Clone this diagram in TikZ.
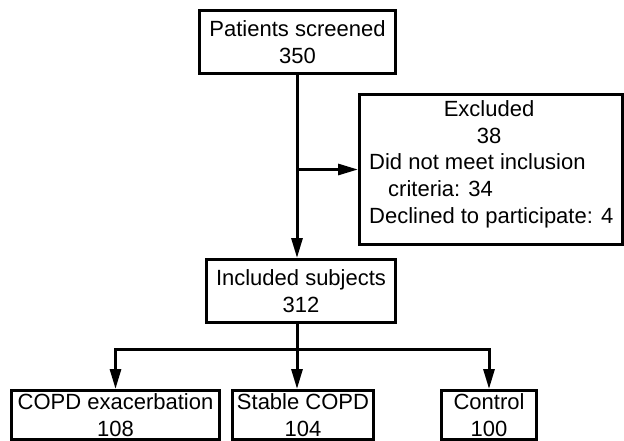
\documentclass[tikz,border=0pt]{standalone}
\usepackage{fontspec}
\setmainfont{Liberation Sans}
\usetikzlibrary{arrows.meta}
\begin{document}
\begin{tikzpicture}[x=1pt,y=-1pt,
  every node/.style={font=\fontsize{22}{27}\selectfont, inner sep=0pt},
  boxnode/.style={draw, line width=3pt, align=center, anchor=north west},
  arr/.style={line width=3pt, -{Triangle[length=20pt,width=11pt]}},
  ln/.style={line width=3pt}]
\useasboundingbox (0,0) rectangle (624,440);
\node[boxnode, minimum width=196pt, minimum height=63pt] (top) at (198,9) {Patients screened\\350};
\node[boxnode, minimum width=263pt, minimum height=150pt] (exc) at (358,93) {};
\node[align=center] (exct) at (489,122) {Excluded\\38};
\node[align=left, anchor=west] (excb) at (369,191) {Did not meet inclusion\\\hspace*{19pt}criteria: 34\\Declined to participate: 4};
\node[boxnode, minimum width=189pt, minimum height=63pt] (inc) at (205,258) {Included subjects\\312};
\node[boxnode, minimum width=208pt, minimum height=49pt] (b1) at (10,389) {COPD exacerbation\\108};
\node[boxnode, minimum width=141pt, minimum height=49pt] (b2) at (231,389) {Stable COPD\\104};
\node[boxnode, minimum width=95pt, minimum height=49pt] (b3) at (440,389) {Control\\100};
\coordinate (s) at (297,72);
\coordinate (j) at (297,349);
\draw[arr] (s) -- (s |- inc.north);
\draw[arr] (s |- exc.west) -- (exc.west);
\draw[ln] (s |- inc.south) -- (j);
\draw[arr] (j) -| (b1.north);
\draw[arr] (j) -| (b3.north);
\draw[arr] (j) -- (j |- b2.north);
\end{tikzpicture}
\end{document}
